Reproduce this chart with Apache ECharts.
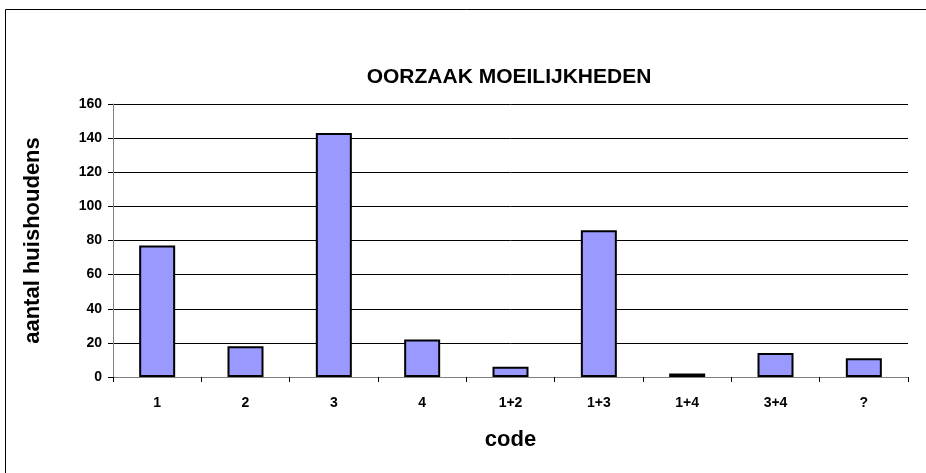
<!DOCTYPE html>
<html>
<head>
<meta charset="utf-8">
<script src="https://cdn.jsdelivr.net/npm/echarts@6/dist/echarts.min.js"></script>
<style>
html,body{margin:0;padding:0;background:#fff;}
#chart{width:926px;height:473px;}
</style>
</head>
<body>
<div id="chart"></div>
<script>
const categories = ['1', '2', '3', '4', '1+2', '1+3', '1+4', '3+4', '?'];
const values = [77, 18, 143, 22, 6, 86, 2, 14, 11];
const yTicks = [0, 20, 40, 60, 80, 100, 120, 140, 160];

const chart = echarts.init(document.getElementById('chart'));
const font = '"Liberation Sans", Arial, sans-serif';
chart.setOption({
  animation: false,
  backgroundColor: '#ffffff',
  graphic: [{
    type: 'rect',
    shape: {x: 5.5, y: 9.5, width: 940, height: 500},
    style: {fill: 'none', stroke: '#000', lineWidth: 1}
  }],
  title: {
    text: 'OORZAAK MOEILIJKHEDEN',
    left: 504, top: 62, textAlign: 'center',
    textStyle: {fontFamily: font, fontWeight: 'bold', fontSize: 21, color: '#000'}
  },
  grid: {left: 113, right: 18, top: 104, bottom: 96},
  xAxis: {
    type: 'category',
    data: categories,
    name: 'code',
    nameLocation: 'middle',
    nameGap: 52,
    nameTextStyle: {fontFamily: font, fontWeight: 'bold', fontSize: 22, color: '#000'},
    axisLine: {lineStyle: {color: '#808080', width: 1}},
    axisTick: {show: true, alignWithLabel: false, length: 5, lineStyle: {color: '#000'}},
    axisLabel: {fontFamily: font, fontWeight: 'bold', fontSize: 14, color: '#000', margin: 19}
  },
  yAxis: {
    type: 'value',
    min: yTicks[0], max: yTicks[yTicks.length - 1], interval: 20,
    name: 'aantal huishoudens',
    nameLocation: 'middle',
    nameGap: 69,
    nameRotate: 90,
    nameTextStyle: {fontFamily: font, fontWeight: 'bold', fontSize: 22, color: '#000'},
    axisLine: {show: true, lineStyle: {color: '#808080', width: 1}},
    axisTick: {show: true, length: 5, lineStyle: {color: '#000'}},
    axisLabel: {fontFamily: font, fontWeight: 'bold', fontSize: 14, color: '#000', margin: 11},
    splitLine: {show: true, lineStyle: {color: '#000', width: 1}}
  },
  series: [{
    type: 'bar',
    data: values,
    barWidth: 36,
    itemStyle: {color: '#9999ff', borderColor: '#000', borderWidth: 2}
  }]
});
</script>
</body>
</html>
